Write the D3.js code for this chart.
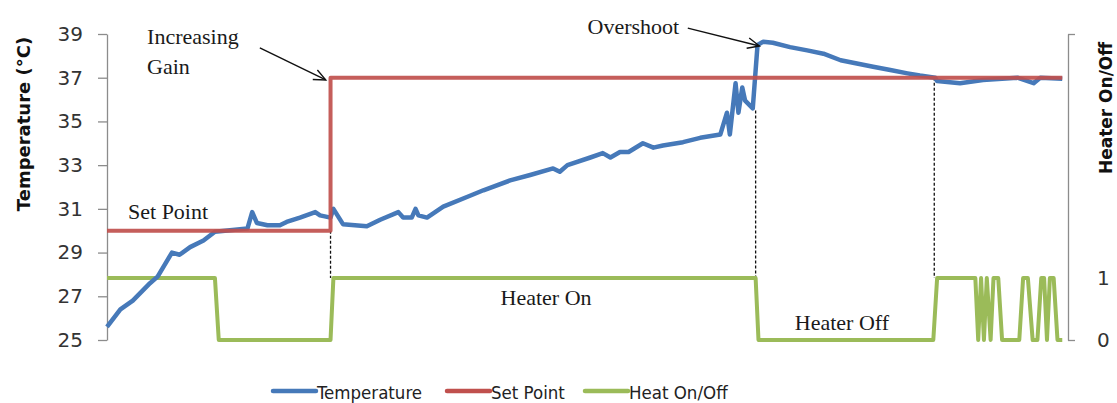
<!DOCTYPE html>
<html>
<head>
<meta charset="utf-8">
<script src="https://cdn.jsdelivr.net/npm/d3@7"></script>
<style>
  html, body { margin: 0; padding: 0; background: #fff; }
  svg { display: block; }
</style>
</head>
<body>
<svg id="chart" width="1117" height="403"></svg>
<script>
// ---------------- DATA ----------------
// time axis (arbitrary units, 0..100)
const tempTime = [0,1.4,2.7,4.5,5.3,6.8,7.6,8.7,10.1,11.3,14.7,15.2,15.7,16.8,18.1,18.8,20.2,21.8,22.3,23.4,23.7,24.7,27.2,28.6,30.5,31.0,31.9,32.3,32.6,33.5,35.2,38.0,39.4,42.2,44.3,46.7,47.4,48.2,50.6,51.9,52.7,53.7,54.6,56.1,57.2,58.2,60.3,62.1,64.2,64.9,65.2,65.8,66.1,66.5,66.8,67.6,68.1,68.7,69.7,71.5,73.3,75.0,76.8,78.5,80.2,82.0,83.8,85.1,86.7,86.9,89.3,91.7,95.3,97.0,97.7,100];
const tempValues = [25.6,26.4,26.8,27.6,27.9,29.0,28.9,29.25,29.55,29.95,30.1,30.85,30.35,30.25,30.25,30.4,30.6,30.85,30.7,30.6,31.0,30.3,30.2,30.5,30.85,30.6,30.6,31.0,30.7,30.6,31.1,31.6,31.85,32.3,32.55,32.85,32.7,33.0,33.35,33.55,33.35,33.6,33.6,34.0,33.8,33.9,34.05,34.25,34.4,35.4,34.4,36.75,35.4,36.55,35.95,35.6,38.5,38.65,38.6,38.4,38.25,38.1,37.8,37.65,37.5,37.35,37.2,37.1,37.0,36.85,36.75,36.9,37.0,36.75,37.0,36.95];

const setTime   = [0, 23.4, 23.4, 100];
const setValues = [30, 30, 37, 37];

const heatTime   = [0,11.3,11.7,23.4,23.7,67.9,68.2,86.5,86.9,90.9,91.2,91.5,91.8,92.1,92.5,92.8,93.3,93.7,95.5,95.9,96.4,96.9,97.4,97.8,98.1,98.4,98.7,99.1,99.5,100];
const heatValues = [1,1,0,0,1,1,0,0,1,1,0,1,0,1,0,1,1,0,0,1,1,0,0,1,1,0,1,1,0,0];

const leftTicks  = [25,27,29,31,33,35,37,39];
const rightTicks = [0,1];

const seriesNames = ["Temperature","Set Point","Heat On/Off"];
const seriesColors = ["#4679B9","#C0504D","#9BBB59"];

// dashed guide lines: time, top temperature
const guideTime = [23.4, 67.9, 86.6];
const guideTop  = [30, 35.5, 37];

// annotations in data space
const noteText = ["Increasing","Gain","Overshoot","Set Point","Heater On","Heater Off"];
const noteTime = [4.2, 4.2, 50.3, 2.2, 41.2, 72.0];
const noteTemp = [38.55, 37.15, 39.0, 30.54, 26.6, 25.46];

const arrowFrom = [[16.0, 38.36],[60.8, 39.27]];
const arrowTo   = [[22.9, 36.9],[68.3, 38.45]];

// ---------------- CHART ----------------
const svg = d3.select("#chart");
const x = d3.scaleLinear().domain([0, 100.6]).range([107, 1068]);
const y = d3.scaleLinear().domain([25, 39]).range([340, 34]);
const y2 = d3.scaleLinear().domain([0, 4.94]).range([340, 34]);

// left axis
const ax = svg.append("g").attr("transform", `translate(${x(0)},0)`)
  .call(d3.axisLeft(y).tickValues(leftTicks).tickSize(9).tickSizeOuter(0).tickPadding(15));
ax.select(".domain").attr("stroke", "#8c8c8c").attr("stroke-width", 1.3);
ax.selectAll(".tick line").attr("stroke", "#8c8c8c").attr("stroke-width", 1.3);
ax.selectAll(".tick text").attr("font-family", "DejaVu Sans, Verdana, sans-serif")
  .attr("font-size", 20).attr("fill", "#333");

// right axis
const ra = svg.append("g").attr("transform", `translate(${x(100.6)},0)`)
  .call(d3.axisRight(y2).tickValues([0, 1, 4.94]).tickSize(7).tickSizeOuter(0).tickPadding(22)
    .tickFormat(d => rightTicks.includes(d) ? d : ""));
ra.select(".domain").attr("stroke", "#8c8c8c").attr("stroke-width", 1.3);
ra.selectAll(".tick line").attr("stroke", "#8c8c8c").attr("stroke-width", 1.3)
  .filter(d => d === 1).remove();
ra.selectAll(".tick text").attr("font-family", "DejaVu Sans, Verdana, sans-serif")
  .attr("font-size", 20).attr("fill", "#333");

// axis titles
svg.append("text").attr("transform", "translate(30,124) rotate(-90)")
  .attr("text-anchor", "middle").attr("font-family", "DejaVu Sans, Verdana, sans-serif")
  .attr("font-weight", "bold").attr("font-size", 18).attr("fill", "#111")
  .text("Temperature (°C)");
svg.append("text").attr("transform", "translate(1112,108) rotate(-90)")
  .attr("text-anchor", "middle").attr("font-family", "DejaVu Sans, Verdana, sans-serif")
  .attr("font-weight", "bold").attr("font-size", 17).attr("fill", "#111")
  .text("Heater On/Off");

// dashed guide lines
guideTime.forEach((t, i) => {
  svg.append("line")
    .attr("x1", x(t)).attr("x2", x(t))
    .attr("y1", y(guideTop[i])).attr("y2", y2(1))
    .attr("stroke", "#111").attr("stroke-width", 1.3).attr("stroke-dasharray", "3,2");
});

// series
const lineT = d3.line().x((d, i) => x(tempTime[i])).y(d => y(d));
const lineS = d3.line().x((d, i) => x(setTime[i])).y(d => y(d));
const lineH = d3.line().x((d, i) => x(heatTime[i])).y(d => y2(d));

svg.append("path").datum(heatValues).attr("d", lineH)
  .attr("fill", "none").attr("stroke", seriesColors[2]).attr("stroke-width", 4).attr("stroke-linejoin", "round");
svg.append("path").datum(tempValues).attr("d", lineT)
  .attr("fill", "none").attr("stroke", seriesColors[0]).attr("stroke-width", 4.5).attr("stroke-linejoin", "round");
svg.append("path").datum(setValues).attr("d", lineS)
  .attr("fill", "none").attr("stroke", seriesColors[1]).attr("stroke-width", 4).attr("stroke-linejoin", "round")
  .attr("stroke-opacity", 0.92);

// annotations
noteText.forEach((txt, i) => {
  svg.append("text").attr("x", x(noteTime[i])).attr("y", y(noteTemp[i]))
    .attr("font-family", "Liberation Serif, Times New Roman, serif")
    .attr("font-size", 22).attr("fill", "#1a1a1a").text(txt);
});

arrowFrom.forEach((f, i) => {
  const x1 = x(f[0]), y1 = y(f[1]), x2 = x(arrowTo[i][0]), y2p = y(arrowTo[i][1]);
  svg.append("line").attr("x1", x1).attr("y1", y1).attr("x2", x2).attr("y2", y2p)
    .attr("stroke", "#111").attr("stroke-width", 1.4);
  const ang = Math.atan2(y2p - y1, x2 - x1);
  const L = 13, spread = 0.42;
  const p1 = [x2 - L * Math.cos(ang - spread), y2p - L * Math.sin(ang - spread)];
  const p2 = [x2 - L * Math.cos(ang + spread), y2p - L * Math.sin(ang + spread)];
  svg.append("path").attr("d", `M${p1[0]},${p1[1]}L${x2},${y2p}L${p2[0]},${p2[1]}`)
    .attr("fill", "none").attr("stroke", "#111").attr("stroke-width", 1.4);
});

// legend
const legendX = [273, 447, 585];
const leg = svg.append("g");
seriesNames.forEach((name, i) => {
  leg.append("line").attr("x1", legendX[i]).attr("x2", legendX[i] + 43)
    .attr("y1", 391).attr("y2", 391)
    .attr("stroke", seriesColors[i]).attr("stroke-width", 4.5).attr("stroke-linecap", "round");
  leg.append("text").attr("x", legendX[i] + 44).attr("y", 399)
    .attr("font-family", "DejaVu Sans Condensed, DejaVu Sans, sans-serif")
    .attr("font-stretch", "condensed")
    .attr("font-size", 18.5).attr("fill", "#222").text(name);
});
</script>
</body>
</html>
